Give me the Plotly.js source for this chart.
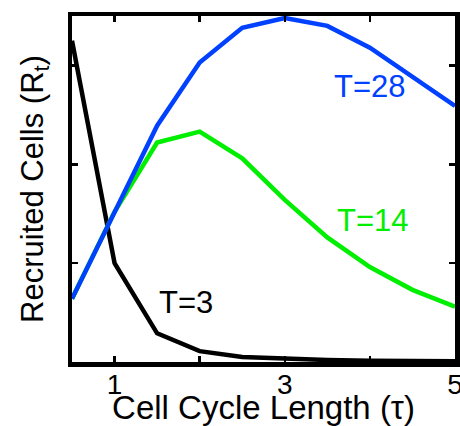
<!DOCTYPE html>
<html>
<head>
<meta charset="utf-8">
<script src="https://cdn.plot.ly/plotly-3.0.1.min.js"></script>
<style>html,body{margin:0;padding:0;background:#fff;}#chart{width:460px;height:426px;}</style>
</head>
<body>
<div id="chart"></div>
<script>
// Cell cycle length (tau)
const tau = [0.5, 1, 1.5, 2, 2.5, 3, 3.5, 4, 4.5, 5];
// Recruited cells for each T (arbitrary units)
const recruitedT3  = [3.25, 1.00, 0.29, 0.11, 0.05, 0.03, 0.02, 0.012, 0.01, 0.008];
const recruitedT14 = [0.64, 1.52, 2.22, 2.33, 2.06, 1.64, 1.26, 0.96, 0.73, 0.56];
const recruitedT28 = [0.64, 1.52, 2.39, 3.03, 3.38, 3.48, 3.40, 3.18, 2.89, 2.59];
const seriesNames = ['T=3', 'T=14', 'T=28'];
const xTickVals = [1, 2, 3, 4, 5];
const xTickText = ['1', ' ', '3', ' ', '5'];
const yTickVals = [1, 2, 3];

const colors = ['#000000', '#00ee00', '#0040ff'];
const series = [recruitedT3, recruitedT14, recruitedT28];

const traces = series.map((y, i) => ({
  x: tau, y: y, type: 'scatter', mode: 'lines', name: seriesNames[i],
  line: {color: colors[i], width: 4.5}
}));

const font = 'Liberation Sans, Arial, Helvetica, sans-serif';
const layout = {
  width: 460, height: 426,
  margin: {l: 72, r: 5, t: 16, b: 64},
  showlegend: false,
  paper_bgcolor: '#fff', plot_bgcolor: '#fff',
  font: {family: font, color: '#000', size: 28},
  xaxis: {
    range: [0.5, 5], tickmode: 'array', tickvals: xTickVals, ticktext: xTickText,
    ticks: 'inside', ticklen: 6, tickwidth: 2.5, tickcolor: '#000',
    showline: true, linewidth: 4.5, linecolor: '#000', mirror: 'ticks',
    showgrid: false, zeroline: false, automargin: false,
    ticklabeloverflow: 'allow', ticklabelstandoff: -6,
    tickfont: {size: 28, family: font, color: '#000'},
    title: {text: 'Cell Cycle Length (τ)', font: {size: 33, family: font, color: '#000'}, standoff: 6}
  },
  yaxis: {
    range: [0, 3.5], tickmode: 'array', tickvals: yTickVals, showticklabels: false,
    ticks: 'inside', ticklen: 6, tickwidth: 2.5, tickcolor: '#000',
    showline: true, linewidth: 4.5, linecolor: '#000', mirror: 'ticks',
    showgrid: false, zeroline: false, automargin: false,
    title: {text: 'Recruited Cells (R<sub>t</sub>)', font: {size: 31, family: font, color: '#000'}, standoff: 16}
  },
  annotations: [
    {x: 1.84, y: 0.6, xref: 'x', yref: 'y', text: 'T=3', showarrow: false, font: {size: 31, color: colors[0], family: font}},
    {x: 4.04, y: 1.43, xref: 'x', yref: 'y', text: 'T=14', showarrow: false, font: {size: 31, color: colors[1], family: font}},
    {x: 4.0, y: 2.79, xref: 'x', yref: 'y', text: 'T=28', showarrow: false, font: {size: 31, color: colors[2], family: font}}
  ]
};

Plotly.newPlot('chart', traces, layout, {displayModeBar: false, staticPlot: true});
</script>
</body>
</html>
